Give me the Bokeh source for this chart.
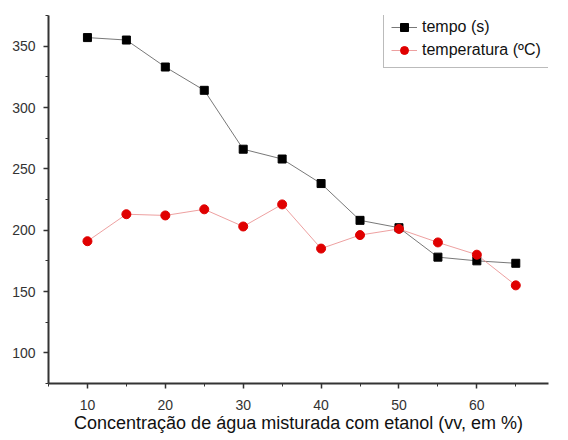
from bokeh.plotting import figure
from bokeh.models import Range1d, Legend, LegendItem, SingleIntervalTicker
from bokeh.embed import file_html
from bokeh.resources import INLINE

conc = [10, 15, 20, 25, 30, 35, 40, 45, 50, 55, 60, 65]
tempo = [357, 355, 333, 314, 266, 258, 238, 208, 202, 178, 175, 173]
temperatura = [191, 213, 212, 217, 203, 221, 185, 196, 201, 190, 180, 155]
x_label = "Concentração de água misturada com etanol (vv, em %)"
labels = ["tempo (s)", "temperatura (ºC)"]

p = figure(width=568, height=440, output_backend="svg", toolbar_location=None,
           x_range=Range1d(5, 69.2), y_range=Range1d(75, 375),
           min_border_left=48, min_border_right=20, min_border_top=15, min_border_bottom=57)
p.background_fill_color = "white"
p.border_fill_color = "white"
p.outline_line_color = None
p.xgrid.visible = False
p.ygrid.visible = False

font = "Liberation Sans"
for ax in (p.xaxis[0], p.yaxis[0]):
    ax.axis_line_color = "#333333"
    ax.axis_line_width = 2
    ax.major_tick_line_color = "#333333"
    ax.minor_tick_line_color = "#333333"
    ax.major_tick_line_width = 1.5
    ax.minor_tick_line_width = 1
    ax.major_tick_out = 5
    ax.major_tick_in = 0
    ax.minor_tick_out = 3
    ax.minor_tick_in = 0
    ax.major_label_text_font = font
    ax.major_label_text_font_size = "14px"
    ax.major_label_text_color = "#333333"
    ax.axis_label_text_font = font
    ax.axis_label_text_font_style = "normal"

p.xaxis.ticker = SingleIntervalTicker(interval=10, num_minor_ticks=2)
p.yaxis.ticker = SingleIntervalTicker(interval=50, num_minor_ticks=2)
p.xaxis.major_label_standoff = 11
p.yaxis.major_label_standoff = 8
p.xaxis.axis_label = x_label
p.xaxis.axis_label_text_font_size = "18px"
p.xaxis.axis_label_text_color = "#111111"
p.xaxis.axis_label_standoff = 0

l1 = p.line(conc, tempo, line_color="#555555", line_width=0.8)
s1 = p.scatter(conc, tempo, marker="square", size=8, fill_color="black", line_color="black")
l2 = p.line(conc, temperatura, line_color="#e88888", line_width=0.8)
s2 = p.scatter(conc, temperatura, marker="circle", size=9, fill_color="#e00000", line_color="#e00000")

legend = Legend(items=[LegendItem(label=labels[0], renderers=[l1, s1]),
                       LegendItem(label=labels[1], renderers=[l2, s2])],
                location=(335, 315))
legend.label_text_font = font
legend.label_text_font_size = "16px"
legend.label_text_color = "#111111"
legend.border_line_color = "#777777"
legend.border_line_width = 1
legend.glyph_width = 26
legend.glyph_height = 20
legend.label_height = 20
legend.spacing = 3
legend.padding = 7
legend.margin = 0
legend.label_standoff = 5
legend.background_fill_alpha = 1
p.add_layout(legend)

open("out.html", "w").write(file_html(p, INLINE))
